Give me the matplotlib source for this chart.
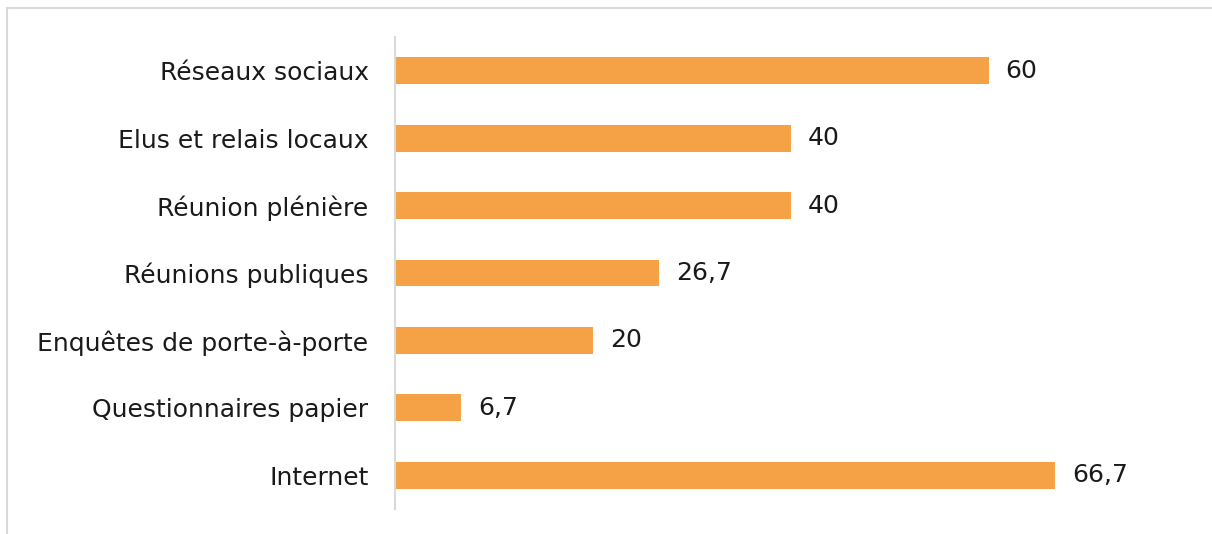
import matplotlib.pyplot as plt
from matplotlib.patches import Rectangle

plt.rcParams['font.family'] = ['DejaVu Sans']

categories = ['Réseaux sociaux', 'Elus et relais locaux', 'Réunion plénière',
              'Réunions publiques', 'Enquêtes de porte-à-porte',
              'Questionnaires papier', 'Internet']
values = [60, 40, 40, 26.7, 20, 6.7, 66.7]
labels = ['60', '40', '40', '26,7', '20', '6,7', '66,7']

fig = plt.figure(figsize=(12.12, 5.34), dpi=100)
ax = fig.add_axes([0.3259, 0.0468, 0.6535, 0.8839])

pos = list(range(len(categories)))
ax.barh(pos, values, height=0.4, color='#F4A245')
ax.set_ylim(len(categories) - 0.5, -0.5)
ax.set_xlim(0, 80)
ax.set_yticks(pos)
ax.set_yticklabels(categories, fontsize=18, color='#1a1a1a')
ax.tick_params(axis='y', length=0, pad=19)
ax.set_xticks([])

for p, v, lab in zip(pos, values, labels):
    ax.annotate(lab, (v, p), xytext=(12, 0), textcoords='offset points',
                va='center', ha='left', fontsize=18, color='#1a1a1a')

for s in ['top', 'right', 'bottom']:
    ax.spines[s].set_visible(False)
ax.spines['left'].set_color('#d9d9d9')
ax.spines['left'].set_linewidth(1.5)

# frame of the chart area (cropped at right and bottom)
fig.patches.append(Rectangle((7 / 1212, -0.1), 1.2, 1 - 8 / 534 + 0.1,
                             transform=fig.transFigure, fill=False,
                             edgecolor='#d9d9d9', linewidth=1.5))

fig.savefig('out.png', dpi=100)
